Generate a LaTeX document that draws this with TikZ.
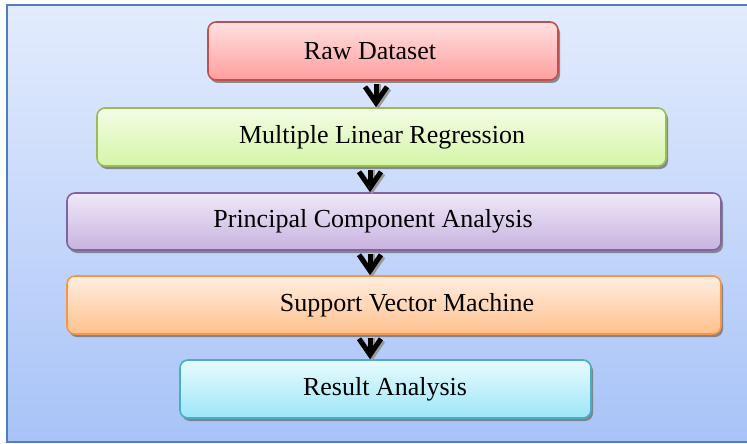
\documentclass[tikz,border=0pt]{standalone}
\usepackage{fontspec}
\setmainfont{Liberation Serif}
\usetikzlibrary{arrows.meta,shadows}

\definecolor{bgtop}{HTML}{E3ECFD}
\definecolor{bgbot}{HTML}{A8C3F8}
\definecolor{bgline}{HTML}{4F7FC0}

\definecolor{redtop}{HTML}{FFE0E0}
\definecolor{redbot}{HTML}{FF9E9E}
\definecolor{redline}{HTML}{C0504D}
\definecolor{grntop}{HTML}{F3FDE6}
\definecolor{grnbot}{HTML}{D5F5A6}
\definecolor{grnline}{HTML}{9BBB59}
\definecolor{purtop}{HTML}{F0E8F8}
\definecolor{purbot}{HTML}{C7B3E0}
\definecolor{purline}{HTML}{8064A2}
\definecolor{orgtop}{HTML}{FFEEE0}
\definecolor{orgbot}{HTML}{FFC08C}
\definecolor{orgline}{HTML}{F79646}
\definecolor{cyntop}{HTML}{E8FBFE}
\definecolor{cynbot}{HTML}{9CE6F8}
\definecolor{cynline}{HTML}{4BACC6}

\tikzset{
  stagebox/.style={rectangle, rounded corners=8pt, line width=1.6pt,
    inner sep=0pt, minimum height=58pt,
    drop shadow={shadow xshift=2pt, shadow yshift=-3pt, fill=black!55, opacity=0.8}},
  stagetext/.style={inner sep=0pt, font=\fontsize{26}{30}\selectfont},
  flowarrow/.style={line width=5pt, black,
    -{Straight Barb[length=16pt,width=22pt,line width=5pt]}},
  flowshadow/.style={flowarrow, black!40}
}

\begin{document}
\begin{tikzpicture}[x=1pt,y=-1pt]
  \useasboundingbox (0,0) rectangle (747,444);
  % panel behind the flow
  \path[top color=bgtop, bottom color=bgbot, draw=bgline, line width=2pt]
    (7,5) rectangle (752,442);

  % stages
  \node[stagebox, top color=redtop, bottom color=redbot, draw=redline,
        minimum width=350pt] (b1) at (383,51) {};
  \node[stagebox, top color=grntop, bottom color=grnbot, draw=grnline,
        minimum width=569pt] (b2) at (381.5,137) {};
  \node[stagebox, top color=purtop, bottom color=purbot, draw=purline,
        minimum width=654pt, minimum height=57pt] (b3) at (394,221.5) {};
  \node[stagebox, top color=orgtop, bottom color=orgbot, draw=orgline,
        minimum width=654pt] (b4) at (394,305) {};
  \node[stagebox, top color=cyntop, bottom color=cynbot, draw=cynline,
        minimum width=411pt] (b5) at (385.5,389) {};

  % labels
  \node[stagetext] (t1) at (370,51) {Raw Dataset};
  \node[stagetext] (t2) at (382,137) {Multiple Linear Regression};
  \node[stagetext] (t3) at (373,221.5) {Principal Component Analysis};
  \node[stagetext] (t4) at (407,305) {Support Vector Machine};
  \node[stagetext] (t5) at (385,389) {Result Analysis};

  % arrow columns
  \coordinate (c1) at (376,0);
  \coordinate (c2) at (370,0);

  % connectors with their shadows
  \draw[flowshadow] ([xshift=2pt,yshift=-3pt]b1.south -| c1) -- ([xshift=2pt,yshift=-2pt]b2.north -| c1);
  \draw[flowarrow] ([yshift=-3pt]b1.south -| c1) -- (b2.north -| c1);
  \draw[flowshadow] ([xshift=2pt,yshift=-3pt]b2.south -| c2) -- ([xshift=2pt,yshift=-2pt]b3.north -| c2);
  \draw[flowarrow] ([yshift=-3pt]b2.south -| c2) -- (b3.north -| c2);
  \draw[flowshadow] ([xshift=2pt,yshift=-3pt]b3.south -| c2) -- ([xshift=2pt,yshift=-2pt]b4.north -| c2);
  \draw[flowarrow] ([yshift=-3pt]b3.south -| c2) -- (b4.north -| c2);
  \draw[flowshadow] ([xshift=2pt,yshift=-3pt]b4.south -| c2) -- ([xshift=2pt,yshift=-2pt]b5.north -| c2);
  \draw[flowarrow] ([yshift=-3pt]b4.south -| c2) -- (b5.north -| c2);
\end{tikzpicture}
\end{document}
